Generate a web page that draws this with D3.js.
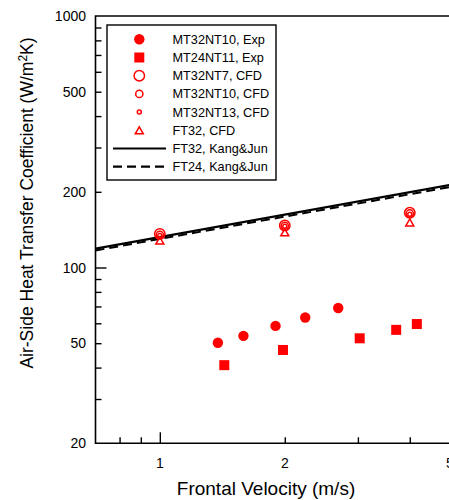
<!DOCTYPE html>
<html>
<head>
<meta charset="utf-8">
<script src="https://cdn.jsdelivr.net/npm/d3@7"></script>
<style>
  html, body { margin: 0; padding: 0; background: #fff; }
  svg { display: block; font-family: "Liberation Sans", Arial, sans-serif; }
</style>
</head>
<body>
<svg id="chart" width="449" height="500"></svg>
<script>
// ---- data ----
const expNT10V = [1.38, 1.59, 1.90, 2.24, 2.69];
const expNT10H = [50.2, 53.5, 58.6, 63.3, 69.0];
const expNT11V = [1.43, 1.98, 3.03, 3.71, 4.16];
const expNT11H = [40.9, 47.0, 52.3, 56.5, 59.6];
const cfdV = [1, 2, 4];
const cfdNT7 = [136, 147, 165];
const cfdNT10 = [135, 146.5, 164];
const cfdNT13 = [134, 146, 163];
const cfdFT32 = [128, 138, 151];
const kangV = [0.7, 5];
const kangFT32 = [118.8, 212.8];
const kangFT24 = [116.9, 208.9];
const xTickLabels = [1, 2, 5];
const yTickLabels = [20, 50, 100, 200, 500, 1000];
const legendLabels = ["MT32NT10, Exp", "MT24NT11, Exp", "MT32NT7, CFD", "MT32NT10, CFD",
                      "MT32NT13, CFD", "FT32, CFD", "FT32, Kang&Jun", "FT24, Kang&Jun"];

(function () {
const svg = d3.select("#chart");
const RED = "#ff0000";
const pL = 95.5, pR = 450, pT = 16, pB = 443.3;

const x = d3.scaleLog().domain([0.7, 5]).range([pL, pR]);
const y = d3.scaleLog().domain([20, 1000]).range([pB, pT]);

const xMinor = [0.8, 0.9, 2, 3, 4, 5];
const xMajor = [1];
const yMinor = [30, 40, 50, 60, 70, 80, 90, 200, 300, 400, 500, 600, 700, 800, 900];
const yMajor = [100];

const xAxisMinor = d3.axisTop(x).tickValues(xMinor).tickSize(6).tickFormat("");
const xAxisMajor = d3.axisTop(x).tickValues(xMajor).tickSize(11).tickFormat("");
const yAxisMinor = d3.axisRight(y).tickValues(yMinor).tickSize(6).tickFormat("");
const yAxisMajor = d3.axisRight(y).tickValues(yMajor).tickSize(11).tickFormat("");

function styleAxis(g) {
  g.select(".domain").remove();
  g.selectAll(".tick line").attr("stroke", "#000").attr("stroke-width", 1.4);
}
svg.append("g").attr("transform", `translate(0,${pB})`).call(xAxisMinor).call(styleAxis);
svg.append("g").attr("transform", `translate(0,${pB})`).call(xAxisMajor).call(styleAxis);
svg.append("g").attr("transform", `translate(${pL},0)`).call(yAxisMinor).call(styleAxis);
svg.append("g").attr("transform", `translate(${pL},0)`).call(yAxisMajor).call(styleAxis);

svg.append("path")
  .attr("d", `M${pR},${pT}H${pL}V${pB}H${pR}`)
  .attr("fill", "none").attr("stroke", "#000").attr("stroke-width", 1.6);

svg.append("g").selectAll("text").data(yTickLabels).join("text")
  .attr("x", 86).attr("y", d => y(d)).attr("dy", "0.36em")
  .attr("text-anchor", "end").attr("font-size", 14).attr("fill", "#000")
  .text(d => d);
svg.append("g").selectAll("text").data(xTickLabels).join("text")
  .attr("x", d => x(d)).attr("y", 468)
  .attr("text-anchor", "middle").attr("font-size", 14).attr("fill", "#000")
  .text(d => d);

svg.append("text").attr("x", 266).attr("y", 495).attr("text-anchor", "middle")
  .attr("font-size", 19).attr("fill", "#000").text("Frontal Velocity (m/s)");
const yt = svg.append("text")
  .attr("transform", `translate(33,203) rotate(-90)`)
  .attr("text-anchor", "middle").attr("font-size", 17.5).attr("fill", "#000");
yt.append("tspan").text("Air-Side Heat Transfer Coefficient (W/m");
yt.append("tspan").attr("font-size", 12).attr("dy", -6).text("2");
yt.append("tspan").attr("dy", 6).text("K)");

const line = d3.line().x(d => x(d[0])).y(d => y(d[1]));
svg.append("path").datum(kangV.map((v, i) => [v, kangFT24[i]]))
  .attr("d", line).attr("fill", "none").attr("stroke", "#000")
  .attr("stroke-width", 2).attr("stroke-dasharray", "9,5");
svg.append("path").datum(kangV.map((v, i) => [v, kangFT32[i]]))
  .attr("d", line).attr("fill", "none").attr("stroke", "#000")
  .attr("stroke-width", 2.2);

function triPath(cx, cy, w, h) {
  return `M${cx},${cy - h / 2}L${cx + w / 2},${cy + h / 2}L${cx - w / 2},${cy + h / 2}Z`;
}
function drawFilledCircle(g, cx, cy) {
  g.append("circle").attr("cx", cx).attr("cy", cy).attr("r", 5.2).attr("fill", RED);
}
function drawSquare(g, cx, cy) {
  g.append("rect").attr("x", cx - 5).attr("y", cy - 5).attr("width", 10).attr("height", 10).attr("fill", RED);
}
function drawOpenCircle(g, cx, cy, r) {
  g.append("circle").attr("cx", cx).attr("cy", cy).attr("r", r)
    .attr("fill", "none").attr("stroke", RED).attr("stroke-width", 1.5);
}
function drawTriangle(g, cx, cy) {
  g.append("path").attr("d", triPath(cx, cy, 8, 7))
    .attr("fill", "none").attr("stroke", RED).attr("stroke-width", 1.5);
}

const marks = svg.append("g");
expNT10V.forEach((v, i) => drawFilledCircle(marks, x(v), y(expNT10H[i])));
expNT11V.forEach((v, i) => drawSquare(marks, x(v), y(expNT11H[i])));
cfdV.forEach((v, i) => drawOpenCircle(marks, x(v), y(cfdNT7[i]), 5.2));
cfdV.forEach((v, i) => drawOpenCircle(marks, x(v), y(cfdNT10[i]), 3.6));
cfdV.forEach((v, i) => drawOpenCircle(marks, x(v), y(cfdNT13[i]), 2));
cfdV.forEach((v, i) => drawTriangle(marks, x(v), y(cfdFT32[i])));

const lg = svg.append("g");
lg.append("rect").attr("x", 107).attr("y", 25).attr("width", 169).attr("height", 155)
  .attr("fill", "#fff").attr("stroke", "#000").attr("stroke-width", 1.4);
const rowY = i => 39.3 + i * 18.2;
const mx = 139.3;
drawFilledCircle(lg, mx, rowY(0));
drawSquare(lg, mx, rowY(1));
drawOpenCircle(lg, mx, rowY(2), 5.2);
drawOpenCircle(lg, mx, rowY(3), 3.6);
drawOpenCircle(lg, mx, rowY(4), 2);
drawTriangle(lg, mx, rowY(5));
lg.append("line").attr("x1", 113).attr("x2", 166).attr("y1", rowY(6)).attr("y2", rowY(6))
  .attr("stroke", "#000").attr("stroke-width", 2.2);
lg.append("line").attr("x1", 113).attr("x2", 166).attr("y1", rowY(7)).attr("y2", rowY(7))
  .attr("stroke", "#000").attr("stroke-width", 2.2).attr("stroke-dasharray", "9,5");
lg.selectAll("text.lab").data(legendLabels).join("text")
  .attr("class", "lab").attr("x", 172.5).attr("y", (d, i) => rowY(i)).attr("dy", "0.36em")
  .attr("font-size", 12.7).attr("fill", "#000").text(d => d);
})();
</script>
</body>
</html>
